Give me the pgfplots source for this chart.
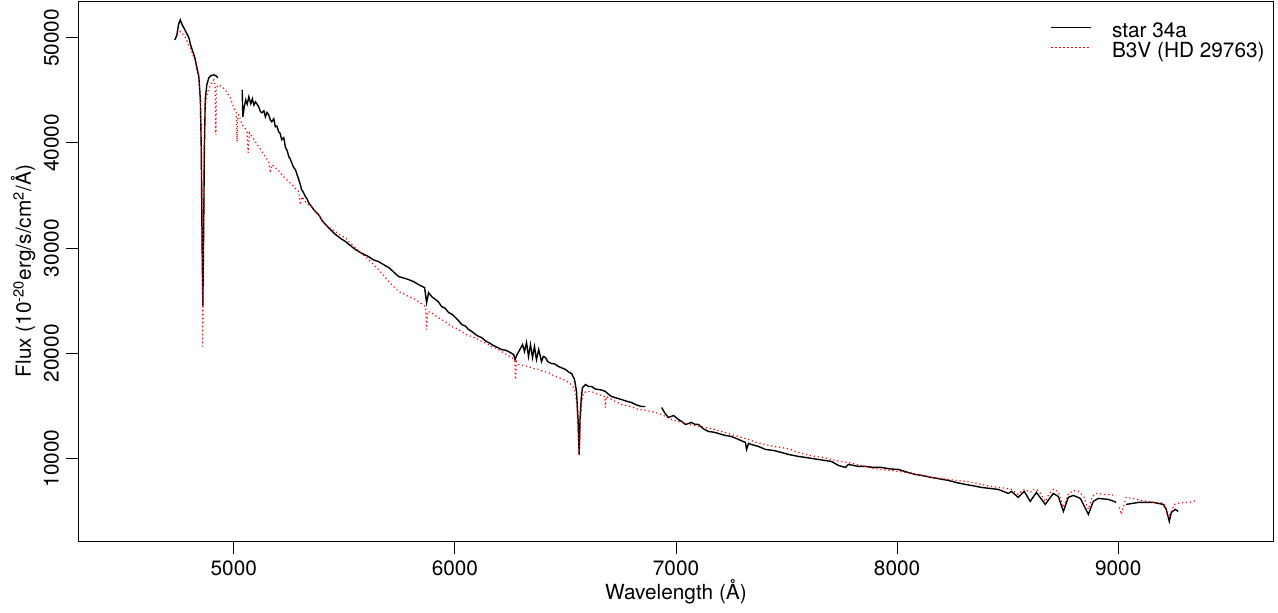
\documentclass[border=0pt]{standalone}
\usepackage{fontspec}
\setmainfont{TeX Gyre Heros}
\usepackage{pgfplots}
\pgfplotsset{compat=1.18}
\begin{document}
\begin{tikzpicture}[font=\fontsize{10.4pt}{12.5pt}\selectfont]
\begin{axis}[
  name=ax,
  width=597pt, height=270pt, scale only axis,
  xmin=4300, xmax=9700, ymin=2150, ymax=53500,
  xtick={5000,6000,7000,8000,9000},
  ytick={10000,20000,30000,40000,50000},
  tick align=outside, major tick length=6.5pt,
  xtick pos=lower, ytick pos=left,
  scaled ticks=false,
  /pgf/number format/assume math mode=true,
  /pgf/number format/1000 sep={},
  tick style={black, line width=0.5pt},
  axis line style={line width=0.5pt},
  yticklabel style={rotate=90, anchor=south},
  every axis x label/.style={at={(axis description cs:0.5,-0.1074)}, anchor=base},
  every axis y label/.style={at={(axis description cs:-0.0402,0.5)}, rotate=90, anchor=base},
  xlabel={Wavelength (Å)},
  ylabel={Flux (10\textsuperscript{-20}erg/s/cm\textsuperscript{2}/Å)},
  unbounded coords=jump,
  legend cell align=left,
  legend style={draw=none, fill=none, at={(axis description cs:1,1)}, anchor=north east,
    xshift=-4pt, yshift=-10.5pt, inner sep=0pt, row sep=0.4pt,
    nodes={inner sep=0pt, text height=7.6pt, text depth=2pt},
    /tikz/every odd column/.append style={column sep=10pt}},
  legend image code/.code={\draw[#1] (0pt,2.4pt) -- (20pt,2.4pt);},
]
\addplot[black, line width=0.7pt] table {
x y
4733 49800
4742 50190
4751 51330
4758 51700
4765 51330
4774 50950
4788 50380
4797 50000
4806 49240
4815 48670
4824 48100
4833 47150
4842 46290
4849 44100
4853 39360
4857 29850
4860 24540
4863 29850
4867 39360
4871 44100
4878 45530
4887 46200
4896 46390
4910 46480
4919 46390
4928 46200
4980 nan
5038 45055
5041 42490
5047 43350
5054 44105
5061 43700
5068 44390
5077 43730
5084 44200
5091 43600
5098 43915
5104 43730
5113 43440
5120 43000
5127 42870
5136 43060
5143 42490
5150 42900
5158 42680
5165 42200
5172 42015
5181 42300
5188 41540
5195 41600
5203 41065
5210 40900
5217 40310
5226 40500
5234 39550
5241 39300
5249 38690
5255 38500
5262 38120
5270 37700
5279 37455
5286 37000
5294 36505
5300 36100
5307 35555
5315 35300
5324 34890
5331 34700
5339 34320
5350 34000
5362 33655
5373 33400
5384 33180
5400 32600
5416 32230
5440 31700
5461 31280
5485 30900
5506 30615
5530 30200
5551 29855
5580 29500
5610 29190
5630 28900
5655 28715
5680 28400
5701 28145
5725 27700
5746 27290
5770 27150
5791 27005
5815 26800
5836 26530
5863 26245
5872 24820
5881 25770
5895 25390
5913 25105
5925 24900
5940 24440
5955 24300
5972 23870
5988 23700
6003 23395
6017 23100
6031 22730
6047 22600
6062 22255
6078 22050
6094 21780
6108 21600
6121 21495
6137 21200
6153 21020
6170 20800
6184 20640
6198 20500
6211 20355
6228 20300
6243 20165
6256 20000
6266 19880
6272 19405
6279 19785
6306 20830
6315 20165
6324 21020
6333 19690
6342 20830
6351 19595
6360 20640
6369 19405
6379 20355
6392 19215
6400 19700
6410 19595
6420 19200
6437 19025
6450 19000
6469 18740
6485 18600
6501 18455
6515 18200
6528 18075
6541 17505
6550 16365
6557 13705
6562 10380
6566 13705
6571 15605
6577 16745
6591 17030
6605 16840
6618 16840
6635 16600
6650 16555
6665 16500
6681 16365
6695 16100
6709 15890
6730 15750
6754 15605
6775 15450
6799 15320
6820 15100
6844 14940
6862 14940
6900 nan
6935 14845
6950 14300
6966 13895
6989 14085
7011 13705
7027 13500
7043 13230
7070 13420
7085 13250
7102 13230
7125 12800
7147 12565
7170 12500
7192 12375
7220 12200
7251 12090
7283 11805
7314 11520
7319 10855
7328 11425
7341 11330
7373 11140
7405 10855
7441 10760
7477 10570
7509 10380
7554 10190
7586 10095
7644 9905
7703 9715
7735 9335
7766 9145
7780 9430
7825 9240
7857 9240
7893 9145
7929 9145
7970 9000
8006 8955
8045 8700
8083 8480
8120 8350
8155 8195
8195 8050
8232 7910
8270 7700
8309 7530
8345 7400
8381 7245
8420 7150
8458 7055
8503 6675
8517 6865
8548 6295
8575 6865
8602 5915
8630 6770
8670 5630
8706 6675
8729 6390
8752 4965
8774 6295
8797 6485
8829 6200
8865 4680
8887 5915
8910 6200
8955 6105
8982 5915
8991 5820
9010 nan
9036 5630
9091 5820
9158 5820
9204 5630
9217 5155
9231 4015
9240 4870
9258 5155
9271 4965
};
\addlegendentry{star 34a}
\addplot[red, line width=0.6pt, dash pattern=on 0.6pt off 1.4pt] table {
x y
4742 50280
4759 50595
4769 50375
4782 49995
4792 49520
4804 49045
4815 48380
4827 47715
4835 47145
4842 46480
4849 43630
4853 39355
4857 34130
4859 27005
4860 20640
4861 27005
4864 37265
4868 41255
4872 43630
4879 44580
4887 45150
4895 45530
4903 45815
4910 46005
4916 45435
4919 40780
4922 45245
4932 45530
4947 45340
4962 45055
4973 44675
4985 44295
5000 43345
5011 42870
5015 40115
5018 42585
5023 42680
5038 41730
5050 41445
5060 41065
5065 39070
5071 40970
5081 40685
5098 40115
5113 39640
5128 39165
5143 38690
5158 38215
5166 37170
5173 37930
5188 37645
5203 37360
5218 36980
5239 36505
5264 36030
5280 35650
5294 35365
5301 34130
5309 34890
5324 34415
5339 34130
5354 33845
5369 33465
5384 33180
5414 32230
5434 31945
5460 31565
5479 31280
5505 30995
5524 30520
5550 30045
5574 29570
5601 29095
5628 28525
5655 27955
5682 27290
5710 26625
5746 25865
5768 25675
5791 25390
5814 25200
5836 24915
5854 24630
5868 24440
5872 22255
5877 23965
5895 23870
5918 23490
5940 23205
5963 22920
5985 22540
6008 22350
6031 22065
6053 21780
6076 21590
6098 21400
6121 21115
6144 20925
6166 20640
6189 20450
6211 20165
6234 19880
6256 19595
6270 19405
6275 17505
6279 19215
6288 18930
6311 18835
6333 18740
6356 18550
6379 18455
6401 18265
6424 18170
6446 17885
6469 17695
6492 17505
6514 17220
6532 16935
6546 16270
6555 13705
6562 10190
6568 13705
6575 15605
6582 16270
6600 16365
6618 16365
6650 16080
6677 15890
6681 14845
6685 15890
6717 15510
6754 15130
6795 14940
6831 14655
6867 14560
6908 14370
6944 14085
6980 13705
7011 13515
7057 13230
7102 13040
7133 12945
7178 12755
7205 12565
7251 12280
7283 12090
7328 11805
7364 11520
7405 11330
7441 11140
7477 11045
7518 10855
7554 10570
7590 10380
7631 10190
7667 10095
7703 9905
7744 9715
7780 9620
7816 9430
7857 9240
7893 9050
7929 8955
7970 8860
8006 8765
8042 8670
8083 8480
8119 8385
8155 8195
8196 8100
8232 8005
8268 7910
8309 7815
8345 7720
8381 7530
8422 7340
8458 7245
8494 7150
8517 7055
8530 6865
8548 6580
8566 6960
8580 7055
8602 6770
8616 7055
8630 7055
8648 6675
8670 5915
8688 6675
8706 7055
8729 6865
8752 5345
8774 6580
8797 6960
8819 6865
8842 6485
8865 5155
8883 6390
8901 6675
8933 6580
8955 6580
8991 6485
8998 nan
9005 5345
9014 4680
9023 5345
9036 6295
9068 6200
9104 6010
9136 5915
9167 5820
9194 5820
9213 5535
9227 4395
9240 4965
9254 5630
9271 5725
9294 5820
9317 5820
9339 5915
9353 6010
};
\addlegendentry{B3V (HD 29763)}
\end{axis}
\path ([shift={(-39.5pt,-35.5pt)}]ax.south west) rectangle ([shift={(2.5pt,0.5pt)}]ax.north east);
\end{tikzpicture}
\end{document}
